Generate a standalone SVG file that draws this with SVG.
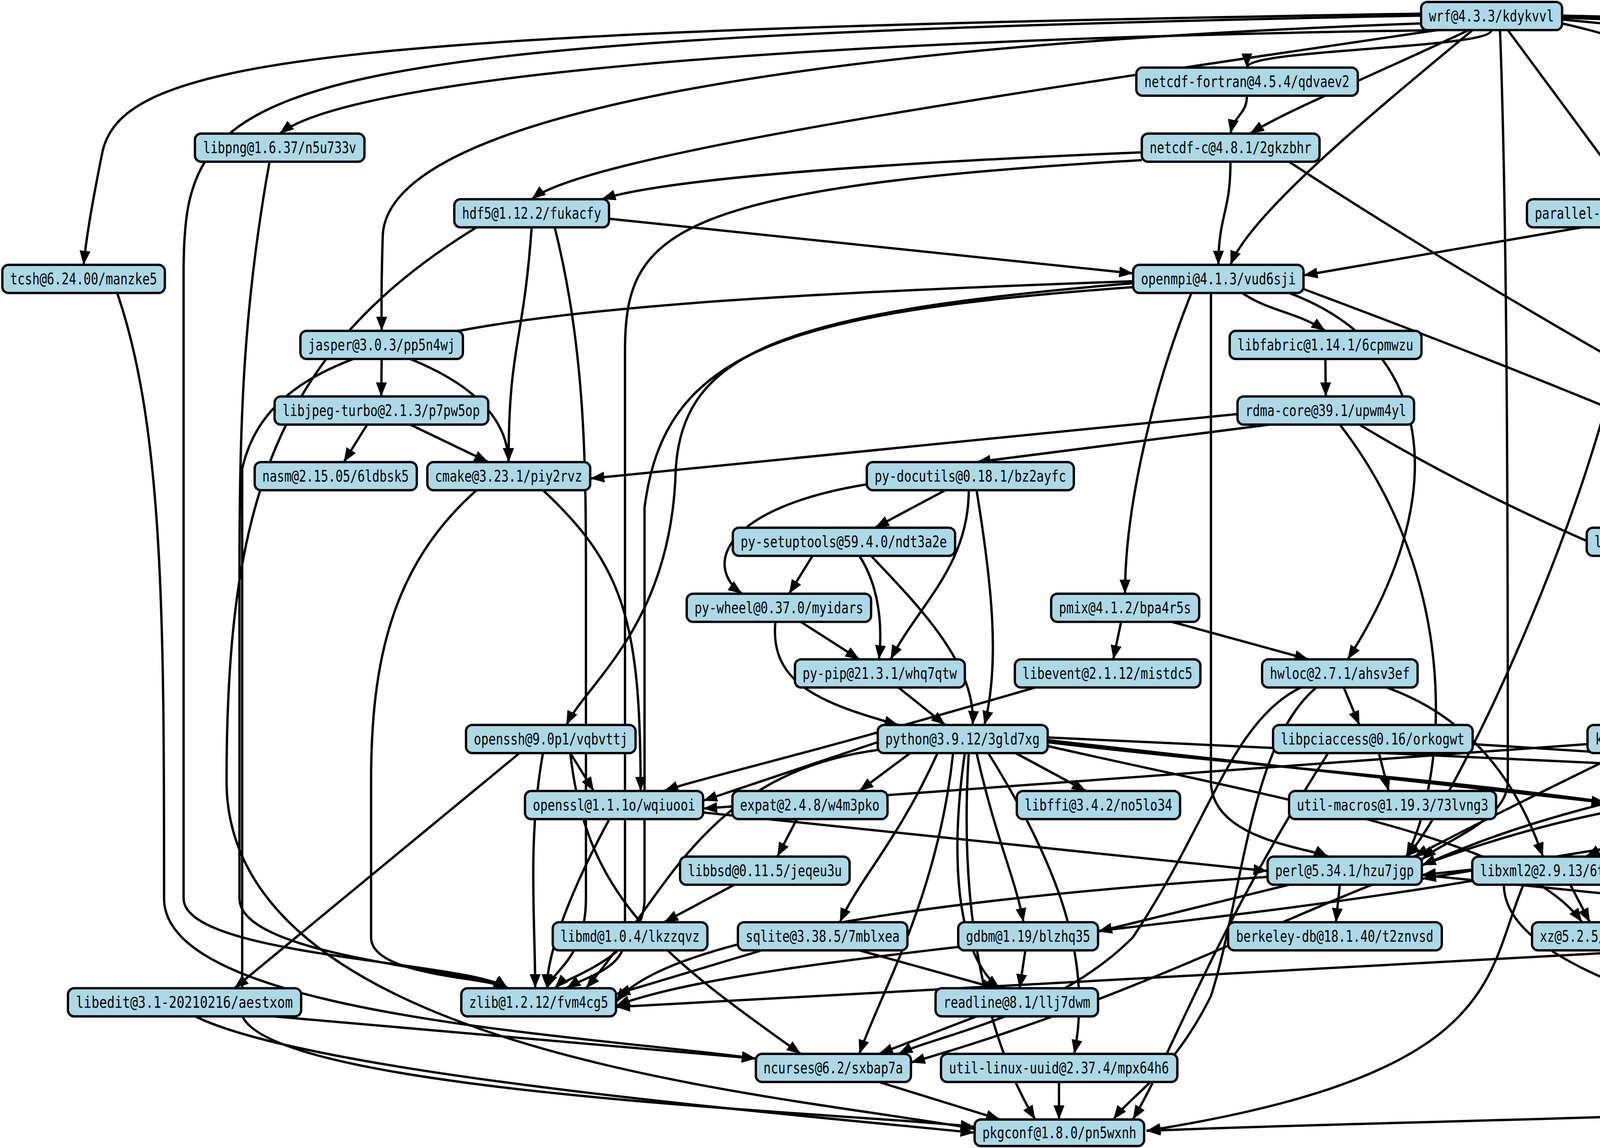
<svg xmlns="http://www.w3.org/2000/svg" width="6834" height="2939" viewBox="0 0 6834 2939">
<style>
.n rect{fill:#add8e6;stroke:#000;stroke-width:6}
.n text{font-family:"DejaVu Sans Mono","Liberation Mono",monospace;font-size:40px;fill:#000;text-anchor:middle;dominant-baseline:central}
#edges path{fill:none;stroke:#000;stroke-width:6;marker-end:url(#ah)}
</style>
<defs>
<marker id="ah" markerUnits="userSpaceOnUse" markerWidth="40" markerHeight="30" refX="36" refY="14" orient="auto"><path d="M0,0 L36,14 L0,28 Z" fill="#000"/></marker>
</defs>
<rect width="6834" height="2939" fill="#fff"/>
<g id="edges">
<path d="M3818 77 C3818 125,3192 125,3192 173"/>
<path d="M3999 40 C5800 80,6400 120,6500 173"/>
<path d="M3700 77 C2000 100,900 200,716 342"/>
<path d="M3760 77 C3500 200,3300 280,3200 342"/>
<path d="M3680 77 C2500 250,1500 400,1361 510"/>
<path d="M3638 35 C800 80,300 150,260 400 C230 550,220 620,214 678"/>
<path d="M3770 77 C3500 300,3200 550,3150 678"/>
<path d="M3638 60 C2000 120,1000 300,980 600 C975 750,977 800,977 847"/>
<path d="M3860 77 C3950 200,4100 400,4180 510"/>
<path d="M3999 60 C4400 150,4550 300,4500 700 C4450 1000,4350 1200,4300 1351"/>
<path d="M3840 77 C3860 600,3860 1500,3860 2000 C3860 2100,3700 2150,3640 2200"/>
<path d="M3999 50 C5600 200,6200 400,6280 900 C6300 1300,6300 1800,6300 2193"/>
<path d="M3999 45 C5900 120,6200 200,6230 500 L6230 1800 C6230 1900,6300 1980,6330 2025"/>
<path d="M3999 45 C6900 100,6820 300,6800 1200 L6780 2500 C6760 2850,4000 2850,2935 2895"/>
<path d="M3638 40 C600 100,470 200,470 700 L470 2300 C470 2450,1200 2460,1300 2530"/>
<path d="M3192 245 C3192 293,3160 293,3150 342"/>
<path d="M3150 414 C3150 546,3120 546,3119 678"/>
<path d="M2923 390 C2200 420,1700 460,1540 510"/>
<path d="M2923 410 C1700 480,1600 600,1600 900 L1600 2400 C1600 2480,1500 2500,1450 2530"/>
<path d="M3300 414 C4500 1200,5900 1800,6100 2193"/>
<path d="M1559 560 L2901 700"/>
<path d="M1361 582 C1340 882,1302 882,1302 1183"/>
<path d="M1420 582 C1500 900,1500 1200,1500 1500 L1500 2300 C1500 2450,1420 2480,1400 2530"/>
<path d="M1220 582 C700 900,580 1300,580 2000 C580 2700,2000 2800,2495 2890"/>
<path d="M4050 582 L3337 705"/>
<path d="M4200 582 C4150 1200,3700 2100,3600 2193"/>
<path d="M4512 560 C5800 650,6250 800,6280 1400 L6280 2193"/>
<path d="M300 750 C420 1100,420 1600,420 2300 C420 2600,1500 2650,1935 2710"/>
<path d="M3180 750 C3250 798,3320 798,3393 847"/>
<path d="M3300 750 C3700 900,3700 1300,3450 1688"/>
<path d="M3050 750 C2950 1000,2880 1300,2880 1520"/>
<path d="M3337 740 C4300 1100,5000 1400,5300 1688"/>
<path d="M3100 750 L3100 2000 C3100 2150,3350 2170,3400 2193"/>
<path d="M2901 735 C2000 800,1700 900,1650 1300 L1650 2300 C1650 2450,1450 2500,1420 2530"/>
<path d="M2901 725 C2000 800,1750 900,1730 1200 C1720 1600,1500 1750,1450 1856"/>
<path d="M2901 720 C1200 780,700 850,620 1200 L620 2600 C700 2800,2200 2850,2495 2885"/>
<path d="M977 919 L976 1015"/>
<path d="M1050 919 C1250 1000,1300 1100,1302 1183"/>
<path d="M3393 919 L3394 1015"/>
<path d="M3168 1060 L1511 1225"/>
<path d="M3250 1087 L2500 1183"/>
<path d="M3480 1087 C4000 1400,4500 1550,4800 1688"/>
<path d="M3430 1087 C3750 1500,3700 2000,3600 2193"/>
<path d="M940 1087 L880 1183"/>
<path d="M1050 1087 L1250 1183"/>
<path d="M1220 1255 C1000 1450,950 1700,950 2000 L950 2400 C950 2500,1250 2500,1300 2530"/>
<path d="M1390 1255 C1600 1450,1640 1600,1640 2025"/>
<path d="M2420 1255 L2240 1351"/>
<path d="M2219 1240 C1850 1300,1800 1450,1900 1520"/>
<path d="M2480 1255 C2480 1450,2350 1550,2280 1688"/>
<path d="M2500 1255 C2540 1500,2560 1700,2520 1856"/>
<path d="M2080 1423 L2020 1520"/>
<path d="M2200 1423 C2250 1500,2260 1600,2250 1688"/>
<path d="M2230 1423 C2350 1550,2500 1700,2490 1856"/>
<path d="M2050 1592 L2200 1688"/>
<path d="M1985 1592 C1970 1750,2100 1800,2300 1856"/>
<path d="M2300 1760 L2420 1856"/>
<path d="M2870 1592 L2850 1688"/>
<path d="M3000 1592 L3350 1688"/>
<path d="M2650 1760 C2000 1950,1800 1990,1700 2025"/>
<path d="M3440 1760 L3480 1856"/>
<path d="M3550 1760 C3800 1850,3900 2050,3950 2193"/>
<path d="M3330 1760 C3150 1850,3100 2100,2900 2400 C2700 2600,2400 2650,2300 2698"/>
<path d="M3370 1760 C3200 1900,3180 2300,3100 2550 C3000 2750,2900 2800,2850 2866"/>
<path d="M4289 1423 L4262 1856"/>
<path d="M4840 1760 L4810 2025"/>
<path d="M5049 1780 C5700 1900,6000 2000,6150 2193"/>
<path d="M5000 1760 L5450 1856"/>
<path d="M5300 1760 L5180 1856"/>
<path d="M5340 1760 C5330 1900,5290 1980,5280 2025"/>
<path d="M5578 1745 C6100 1800,6300 1900,6350 2025"/>
<path d="M5578 1735 C6050 1800,6150 1950,6180 2193"/>
<path d="M1460 1928 L1520 2025"/>
<path d="M1390 1928 C1350 2150,1370 2350,1370 2530"/>
<path d="M1330 1928 C1000 2200,700 2450,600 2530"/>
<path d="M1460 1928 C1500 2300,1700 2450,2050 2698"/>
<path d="M2247 1900 L1800 2050"/>
<path d="M2330 1928 L2200 2025"/>
<path d="M2600 1928 L2780 2025"/>
<path d="M2400 1928 C2300 2150,2200 2250,2150 2361"/>
<path d="M2500 1928 C2550 2150,2600 2250,2620 2361"/>
<path d="M2470 1928 C2430 2200,2450 2450,2560 2530"/>
<path d="M2440 1928 C2400 2300,2250 2550,2200 2698"/>
<path d="M2530 1928 C2700 2200,2800 2450,2750 2698"/>
<path d="M2480 1928 C2450 2400,2550 2700,2650 2866"/>
<path d="M2247 1920 C1800 1980,1700 2300,1500 2530"/>
<path d="M2682 1900 C3500 2000,4800 2050,5200 2361"/>
<path d="M2682 1910 C3300 2050,3900 2150,4050 2361"/>
<path d="M2682 1895 L4110 2055"/>
<path d="M2682 1888 L6171 2050"/>
<path d="M3530 1928 L3555 2025"/>
<path d="M3400 1928 C3100 2400,3000 2700,2900 2866"/>
<path d="M3770 1905 L6171 2060"/>
<path d="M4064 1905 L1800 2070"/>
<path d="M4400 1928 L4650 2025"/>
<path d="M4270 1928 L4290 2025"/>
<path d="M4150 1928 C3900 2050,3700 2150,3620 2193"/>
<path d="M5150 1928 L5220 2025"/>
<path d="M4840 1910 C4000 2050,3800 2150,3640 2215"/>
<path d="M5462 2080 L5962 2215"/>
<path d="M5028 2090 L3640 2240"/>
<path d="M5391 1920 L5002 2040"/>
<path d="M5650 1928 L5740 2025"/>
<path d="M5768 1920 C6000 2000,6100 2100,6150 2193"/>
<path d="M5550 1928 C5500 2200,5600 2400,5620 2530"/>
<path d="M4250 2097 L4060 2193"/>
<path d="M4420 2097 L4620 2193"/>
<path d="M4319 2097 C4330 2200,4250 2300,4150 2361"/>
<path d="M4480 2097 C4900 2200,5100 2250,5260 2361"/>
<path d="M4520 2090 C5200 2300,5400 2500,5280 2698"/>
<path d="M4110 2080 C3500 2200,3100 2500,2332 2720"/>
<path d="M5002 2097 L5962 2230"/>
<path d="M4950 2097 C5200 2250,5500 2400,5600 2530"/>
<path d="M4605 2090 L3640 2250"/>
<path d="M6300 2097 L6200 2193"/>
<path d="M1880 2265 L1700 2361"/>
<path d="M2040 2097 L1990 2193"/>
<path d="M3430 2265 L3420 2361"/>
<path d="M3300 2265 L2811 2385"/>
<path d="M3245 2245 C2400 2300,1700 2400,1577 2566"/>
<path d="M3640 2240 L5110 2390"/>
<path d="M1560 2097 C1450 2300,1400 2450,1400 2530"/>
<path d="M1800 2080 L3245 2230"/>
<path d="M4020 2265 L4070 2361"/>
<path d="M3769 2255 C2900 2400,1900 2450,1577 2575"/>
<path d="M3850 2265 C3850 2500,4500 2650,5013 2720"/>
<path d="M3900 2265 C3800 2500,3850 2750,2935 2895"/>
<path d="M4580 2265 L4200 2361"/>
<path d="M4620 2265 L4480 2361"/>
<path d="M4740 2265 L4820 2361"/>
<path d="M4800 2265 L5200 2361"/>
<path d="M4850 2265 C5000 2400,5150 2550,5200 2698"/>
<path d="M6160 2265 L6150 2361"/>
<path d="M2200 2433 L2550 2530"/>
<path d="M1950 2433 L1577 2545"/>
<path d="M2625 2433 L2610 2530"/>
<path d="M4289 2430 L1577 2578"/>
<path d="M5400 2433 L5600 2530"/>
<path d="M700 2602 L1935 2710"/>
<path d="M500 2602 C800 2750,2000 2850,2495 2900"/>
<path d="M2500 2602 L2250 2698"/>
<path d="M5550 2602 L5350 2698"/>
<path d="M2250 2770 L2560 2866"/>
<path d="M2711 2770 L2711 2866"/>
<path d="M690 414 C620 800,613 1100,613 1500 L613 2300 C613 2450,1200 2480,1300 2530"/>
</g>
<g id="wrf" class="n"><rect x="3638" y="5" width="361" height="72" rx="16"/><text x="3818" y="41" textLength="320" lengthAdjust="spacingAndGlyphs">wrf@4.3.3/kdykvvl</text></g>
<g id="netcdf-fortran" class="n"><rect x="2909" y="173" width="567" height="72" rx="16"/><text x="3192" y="209" textLength="525" lengthAdjust="spacingAndGlyphs">netcdf-fortran@4.5.4/qdvaev2</text></g>
<g id="time" class="n"><rect x="6437" y="173" width="340" height="72" rx="16"/><text x="6607" y="209" textLength="300" lengthAdjust="spacingAndGlyphs">time@1.9/kya55wb</text></g>
<g id="libpng" class="n"><rect x="499" y="342" width="434" height="72" rx="16"/><text x="716" y="378" textLength="392" lengthAdjust="spacingAndGlyphs">libpng@1.6.37/n5u733v</text></g>
<g id="netcdf-c" class="n"><rect x="2923" y="342" width="455" height="72" rx="16"/><text x="3150" y="378" textLength="414" lengthAdjust="spacingAndGlyphs">netcdf-c@4.8.1/2gkzbhr</text></g>
<g id="hdf5" class="n"><rect x="1163" y="510" width="396" height="72" rx="16"/><text x="1361" y="546" textLength="356" lengthAdjust="spacingAndGlyphs">hdf5@1.12.2/fukacfy</text></g>
<g id="parallel-netcdf" class="n"><rect x="3909" y="510" width="603" height="72" rx="16"/><text x="4210" y="546" textLength="562" lengthAdjust="spacingAndGlyphs">parallel-netcdf@1.12.2/luaswlw</text></g>
<g id="tcsh" class="n"><rect x="6" y="678" width="416" height="72" rx="16"/><text x="214" y="714" textLength="376" lengthAdjust="spacingAndGlyphs">tcsh@6.24.00/manzke5</text></g>
<g id="openmpi" class="n"><rect x="2901" y="678" width="436" height="72" rx="16"/><text x="3119" y="714" textLength="396" lengthAdjust="spacingAndGlyphs">openmpi@4.1.3/vud6sji</text></g>
<g id="jasper" class="n"><rect x="769" y="847" width="416" height="72" rx="16"/><text x="977" y="883" textLength="376" lengthAdjust="spacingAndGlyphs">jasper@3.0.3/pp5n4wj</text></g>
<g id="libfabric" class="n"><rect x="3148" y="847" width="491" height="72" rx="16"/><text x="3393" y="883" textLength="450" lengthAdjust="spacingAndGlyphs">libfabric@1.14.1/6cpmwzu</text></g>
<g id="libjpeg-turbo" class="n"><rect x="703" y="1015" width="547" height="72" rx="16"/><text x="976" y="1051" textLength="505" lengthAdjust="spacingAndGlyphs">libjpeg-turbo@2.1.3/p7pw5op</text></g>
<g id="rdma-core" class="n"><rect x="3168" y="1015" width="452" height="72" rx="16"/><text x="3394" y="1051" textLength="412" lengthAdjust="spacingAndGlyphs">rdma-core@39.1/upwm4yl</text></g>
<g id="nasm" class="n"><rect x="652" y="1183" width="415" height="72" rx="16"/><text x="859" y="1219" textLength="375" lengthAdjust="spacingAndGlyphs">nasm@2.15.05/6ldbsk5</text></g>
<g id="cmake" class="n"><rect x="1094" y="1183" width="417" height="72" rx="16"/><text x="1302" y="1219" textLength="377" lengthAdjust="spacingAndGlyphs">cmake@3.23.1/piy2rvz</text></g>
<g id="py-docutils" class="n"><rect x="2219" y="1183" width="530" height="72" rx="16"/><text x="2484" y="1219" textLength="490" lengthAdjust="spacingAndGlyphs">py-docutils@0.18.1/bz2ayfc</text></g>
<g id="py-setuptools" class="n"><rect x="1876" y="1351" width="569" height="72" rx="16"/><text x="2160" y="1387" textLength="528" lengthAdjust="spacingAndGlyphs">py-setuptools@59.4.0/ndt3a2e</text></g>
<g id="libtirpc" class="n"><rect x="4062" y="1351" width="454" height="72" rx="16"/><text x="4289" y="1387" textLength="414" lengthAdjust="spacingAndGlyphs">libtirpc@1.2.6/tacumxd</text></g>
<g id="py-wheel" class="n"><rect x="1758" y="1520" width="472" height="72" rx="16"/><text x="1994" y="1556" textLength="432" lengthAdjust="spacingAndGlyphs">py-wheel@0.37.0/myidars</text></g>
<g id="pmix" class="n"><rect x="2691" y="1520" width="379" height="72" rx="16"/><text x="2880" y="1556" textLength="338" lengthAdjust="spacingAndGlyphs">pmix@4.1.2/bpa4r5s</text></g>
<g id="py-pip" class="n"><rect x="2035" y="1688" width="435" height="72" rx="16"/><text x="2252" y="1724" textLength="395" lengthAdjust="spacingAndGlyphs">py-pip@21.3.1/whq7qtw</text></g>
<g id="libevent" class="n"><rect x="2598" y="1688" width="475" height="72" rx="16"/><text x="2835" y="1724" textLength="435" lengthAdjust="spacingAndGlyphs">libevent@2.1.12/mistdc5</text></g>
<g id="hwloc" class="n"><rect x="3231" y="1688" width="398" height="72" rx="16"/><text x="3430" y="1724" textLength="358" lengthAdjust="spacingAndGlyphs">hwloc@2.7.1/ahsv3ef</text></g>
<g id="libnl" class="n"><rect x="4653" y="1688" width="396" height="72" rx="16"/><text x="4851" y="1724" textLength="356" lengthAdjust="spacingAndGlyphs">libnl@3.3.0/dyr24ip</text></g>
<g id="numactl" class="n"><rect x="5125" y="1688" width="453" height="72" rx="16"/><text x="5351" y="1724" textLength="413" lengthAdjust="spacingAndGlyphs">numactl@2.0.14/7clhtva</text></g>
<g id="openssh" class="n"><rect x="1193" y="1856" width="434" height="72" rx="16"/><text x="1410" y="1892" textLength="394" lengthAdjust="spacingAndGlyphs">openssh@9.0p1/vqbvttj</text></g>
<g id="python" class="n"><rect x="2247" y="1856" width="435" height="72" rx="16"/><text x="2464" y="1892" textLength="395" lengthAdjust="spacingAndGlyphs">python@3.9.12/3gld7xg</text></g>
<g id="libpciaccess" class="n"><rect x="3259" y="1856" width="511" height="72" rx="16"/><text x="3514" y="1892" textLength="470" lengthAdjust="spacingAndGlyphs">libpciaccess@0.16/orkogwt</text></g>
<g id="krb5" class="n"><rect x="4064" y="1856" width="396" height="72" rx="16"/><text x="4262" y="1892" textLength="356" lengthAdjust="spacingAndGlyphs">krb5@1.19.3/bbrtonc</text></g>
<g id="automake" class="n"><rect x="4840" y="1856" width="473" height="72" rx="16"/><text x="5076" y="1892" textLength="433" lengthAdjust="spacingAndGlyphs">automake@1.16.5/6e34ew3</text></g>
<g id="flex" class="n"><rect x="5391" y="1856" width="377" height="72" rx="16"/><text x="5579" y="1892" textLength="337" lengthAdjust="spacingAndGlyphs">flex@2.6.3/4e7lolz</text></g>
<g id="openssl" class="n"><rect x="1344" y="2025" width="456" height="72" rx="16"/><text x="1572" y="2061" textLength="416" lengthAdjust="spacingAndGlyphs">openssl@1.1.1o/wqiuooi</text></g>
<g id="expat" class="n"><rect x="1875" y="2025" width="397" height="72" rx="16"/><text x="2073" y="2061" textLength="357" lengthAdjust="spacingAndGlyphs">expat@2.4.8/w4m3pko</text></g>
<g id="libffi" class="n"><rect x="2603" y="2025" width="418" height="72" rx="16"/><text x="2812" y="2061" textLength="378" lengthAdjust="spacingAndGlyphs">libffi@3.4.2/no5lo34</text></g>
<g id="util-macros" class="n"><rect x="3300" y="2025" width="530" height="72" rx="16"/><text x="3565" y="2061" textLength="490" lengthAdjust="spacingAndGlyphs">util-macros@1.19.3/73lvng3</text></g>
<g id="gettext" class="n"><rect x="4110" y="2025" width="418" height="72" rx="16"/><text x="4319" y="2061" textLength="378" lengthAdjust="spacingAndGlyphs">gettext@0.21/7kqdn5p</text></g>
<g id="bison" class="n"><rect x="4605" y="2025" width="397" height="72" rx="16"/><text x="4803" y="2061" textLength="357" lengthAdjust="spacingAndGlyphs">bison@3.8.2/7pdppgg</text></g>
<g id="autoconf" class="n"><rect x="5028" y="2025" width="434" height="72" rx="16"/><text x="5245" y="2061" textLength="394" lengthAdjust="spacingAndGlyphs">autoconf@2.69/lnxicvs</text></g>
<g id="findutils" class="n"><rect x="5539" y="2025" width="475" height="72" rx="16"/><text x="5776" y="2061" textLength="435" lengthAdjust="spacingAndGlyphs">findutils@4.9.0/uoa77yx</text></g>
<g id="libtool" class="n"><rect x="6171" y="2025" width="444" height="72" rx="16"/><text x="6393" y="2061" textLength="404" lengthAdjust="spacingAndGlyphs">libtool@2.4.7/bsltc5j</text></g>
<g id="libbsd" class="n"><rect x="1741" y="2193" width="434" height="72" rx="16"/><text x="1958" y="2229" textLength="394" lengthAdjust="spacingAndGlyphs">libbsd@0.11.5/jeqeu3u</text></g>
<g id="perl" class="n"><rect x="3245" y="2193" width="395" height="72" rx="16"/><text x="3442" y="2229" textLength="355" lengthAdjust="spacingAndGlyphs">perl@5.34.1/hzu7jgp</text></g>
<g id="libxml2" class="n"><rect x="3769" y="2193" width="452" height="72" rx="16"/><text x="3995" y="2229" textLength="412" lengthAdjust="spacingAndGlyphs">libxml2@2.9.13/6tb2ksk</text></g>
<g id="tar" class="n"><rect x="4516" y="2193" width="338" height="72" rx="16"/><text x="4685" y="2229" textLength="298" lengthAdjust="spacingAndGlyphs">tar@1.34/duvxgzs</text></g>
<g id="m4" class="n"><rect x="5962" y="2193" width="418" height="72" rx="16"/><text x="6171" y="2229" textLength="378" lengthAdjust="spacingAndGlyphs">m4@1.4.19/b7kohqe</text></g>
<g id="libmd" class="n"><rect x="1415" y="2361" width="396" height="72" rx="16"/><text x="1613" y="2397" textLength="356" lengthAdjust="spacingAndGlyphs">libmd@1.0.4/lkzzqvz</text></g>
<g id="sqlite" class="n"><rect x="1889" y="2361" width="434" height="72" rx="16"/><text x="2106" y="2397" textLength="394" lengthAdjust="spacingAndGlyphs">sqlite@3.38.5/7mblxea</text></g>
<g id="gdbm" class="n"><rect x="2453" y="2361" width="358" height="72" rx="16"/><text x="2632" y="2397" textLength="318" lengthAdjust="spacingAndGlyphs">gdbm@1.19/blzhq35</text></g>
<g id="berkeley-db" class="n"><rect x="3144" y="2361" width="547" height="72" rx="16"/><text x="3417" y="2397" textLength="505" lengthAdjust="spacingAndGlyphs">berkeley-db@18.1.40/t2znvsd</text></g>
<g id="xz" class="n"><rect x="3922" y="2361" width="340" height="72" rx="16"/><text x="4092" y="2397" textLength="300" lengthAdjust="spacingAndGlyphs">xz@5.2.5/3d3mae3</text></g>
<g id="pigz" class="n"><rect x="4289" y="2361" width="339" height="72" rx="16"/><text x="4458" y="2397" textLength="299" lengthAdjust="spacingAndGlyphs">pigz@2.7/gztlfoc</text></g>
<g id="zstd" class="n"><rect x="4655" y="2361" width="378" height="72" rx="16"/><text x="4844" y="2397" textLength="338" lengthAdjust="spacingAndGlyphs">zstd@1.5.2/zcrokot</text></g>
<g id="bzip2" class="n"><rect x="5110" y="2361" width="397" height="72" rx="16"/><text x="5308" y="2397" textLength="357" lengthAdjust="spacingAndGlyphs">bzip2@1.0.8/t52jbz3</text></g>
<g id="libsigsegv" class="n"><rect x="5905" y="2361" width="471" height="72" rx="16"/><text x="6140" y="2397" textLength="431" lengthAdjust="spacingAndGlyphs">libsigsegv@2.13/a3xlh3s</text></g>
<g id="libedit" class="n"><rect x="174" y="2530" width="597" height="72" rx="16"/><text x="472" y="2566" textLength="555" lengthAdjust="spacingAndGlyphs">libedit@3.1-20210216/aestxom</text></g>
<g id="zlib" class="n"><rect x="1181" y="2530" width="396" height="72" rx="16"/><text x="1379" y="2566" textLength="356" lengthAdjust="spacingAndGlyphs">zlib@1.2.12/fvm4cg5</text></g>
<g id="readline" class="n"><rect x="2395" y="2530" width="416" height="72" rx="16"/><text x="2603" y="2566" textLength="376" lengthAdjust="spacingAndGlyphs">readline@8.1/llj7dwm</text></g>
<g id="diffutils" class="n"><rect x="5431" y="2530" width="433" height="72" rx="16"/><text x="5647" y="2566" textLength="393" lengthAdjust="spacingAndGlyphs">diffutils@3.8/gk2vnja</text></g>
<g id="ncurses" class="n"><rect x="1935" y="2698" width="397" height="72" rx="16"/><text x="2133" y="2734" textLength="357" lengthAdjust="spacingAndGlyphs">ncurses@6.2/sxbap7a</text></g>
<g id="util-linux-uuid" class="n"><rect x="2409" y="2698" width="605" height="72" rx="16"/><text x="2711" y="2734" textLength="563" lengthAdjust="spacingAndGlyphs">util-linux-uuid@2.37.4/mpx64h6</text></g>
<g id="libiconv" class="n"><rect x="5013" y="2698" width="437" height="72" rx="16"/><text x="5231" y="2734" textLength="397" lengthAdjust="spacingAndGlyphs">libiconv@1.16/ibjrcdp</text></g>
<g id="pkgconf" class="n"><rect x="2495" y="2866" width="434" height="68" rx="16"/><text x="2712" y="2900" textLength="394" lengthAdjust="spacingAndGlyphs">pkgconf@1.8.0/pn5wxnh</text></g>
</svg>
